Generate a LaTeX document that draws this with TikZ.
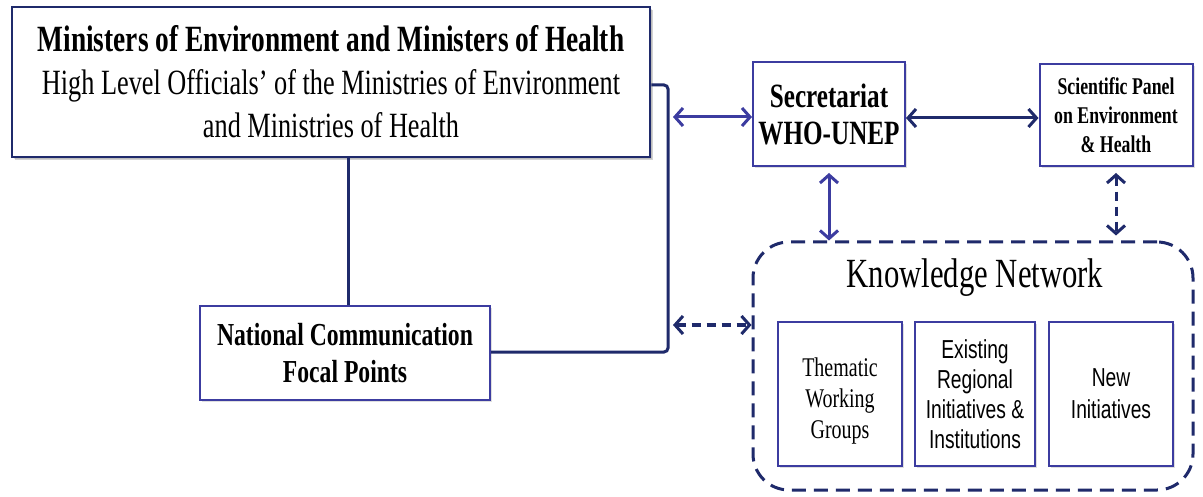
\documentclass[tikz,border=0pt]{standalone}
\usepackage{fontspec}
\setmainfont[FakeStretch=0.74]{Liberation Serif}
\newfontfamily\sansn[FakeStretch=0.74]{Liberation Sans}
\usetikzlibrary{arrows.meta,shadows}
\definecolor{navy}{HTML}{1F2A6B}
\definecolor{boxblue}{HTML}{3C3CA0}
\begin{document}
\begin{tikzpicture}[x=1pt,y=-1pt,
  box/.style={draw=boxblue, line width=2pt, fill=white, align=center, inner sep=0pt,
    drop shadow={opacity=0.25, shadow xshift=2pt, shadow yshift=-2pt}},
  conn/.style={draw=navy, line width=3pt},
  dbl/.style={line width=3pt, {Straight Barb[length=8pt,width=18pt]}-{Straight Barb[length=8pt,width=18pt]}},
  dsh/.style={dbl, dash pattern=on 9pt off 6pt}]
\useasboundingbox (0,0) rectangle (1203,497);
\fill[white] (0,0) rectangle (1203,497);

% top box
\node[box, draw=navy, line width=2.5pt, minimum width=638pt, minimum height=150pt,
  drop shadow={opacity=0.35, shadow xshift=3pt, shadow yshift=-3pt},
  font=\fontsize{35.5}{43}\selectfont] (top) at (331,82)
  {{\bfseries\fontsize{37}{43}\selectfont Ministers of Environment and Ministers of Health}\\
   High Level Officials’ of the Ministries of Environment\\
   and Ministries of Health};

% national focal points
\node[box, minimum width=290pt, minimum height=93pt,
  font=\bfseries\fontsize{32}{37}\selectfont] (ncfp) at (345,353)
  {National Communication\\Focal Points};

% secretariat
\node[box, minimum width=152pt, minimum height=104pt,
  font=\bfseries\fontsize{34}{37}\selectfont] (sec) at (829,114)
  {Secretariat\\WHO-UNEP};

% scientific panel
\node[box, minimum width=153pt, minimum height=102pt,
  font=\bfseries\fontsize{24}{29}\selectfont] (sp) at (1116,115)
  {Scientific Panel\\on Environment\\\& Health};

% knowledge network
\node[draw=navy, line width=3pt, dash pattern=on 14pt off 8pt, rounded corners=36pt,
  minimum width=440pt, minimum height=248pt, inner sep=0pt] (kn) at (973,366) {};
\node[font=\fontsize{41.5}{44}\selectfont, inner sep=0pt] (kntitle) at (975,278) {Knowledge Network};

\node[box, minimum width=124pt, minimum height=144pt] (twg) at (840,394) {};
\node[align=center, inner sep=0pt, font=\fontsize{27}{31}\selectfont] (twgtxt)
  at ([yshift=-7pt]twg.center) {Thematic\\Working\\Groups};
\node[box, minimum width=120pt, minimum height=144pt,
  font=\sansn\fontsize{26}{30}\selectfont] (eri) at (975,394)
  {Existing\\Regional\\Initiatives \&\\Institutions};
\node[box, minimum width=124pt, minimum height=144pt,
  font=\sansn\fontsize{26}{32}\selectfont] (ni) at (1111,394)
  {New\\Initiatives};

% connectors
\coordinate (bt) at (668,85);
\coordinate (bb) at (668,352);
\draw[conn, rounded corners=4pt] (top.east |- bt) -- (bt) -- (bb) -- (bb -| ncfp.east);
\draw[conn] (top.south -| 348,0) -- (ncfp.north -| 348,0);

\coordinate (a1) at (673,117);
\draw[dbl, boxblue] (a1) -- (a1 -| sec.west);
\coordinate (a3) at (0,118);
\draw[dbl, navy] (a3 -| sec.east) -- (a3 -| sp.west);
\draw[dbl, boxblue, shorten <=6pt] (sec.south) -- (sec.south |- kn.north);
\draw[dsh, navy, shorten <=6pt, shorten >=5pt] (sp.south) -- (sp.south |- kn.north);
\coordinate (a2) at (673,325);
\draw[dsh, navy] (a2) -- (a2 -| kn.west);
\end{tikzpicture}
\end{document}
